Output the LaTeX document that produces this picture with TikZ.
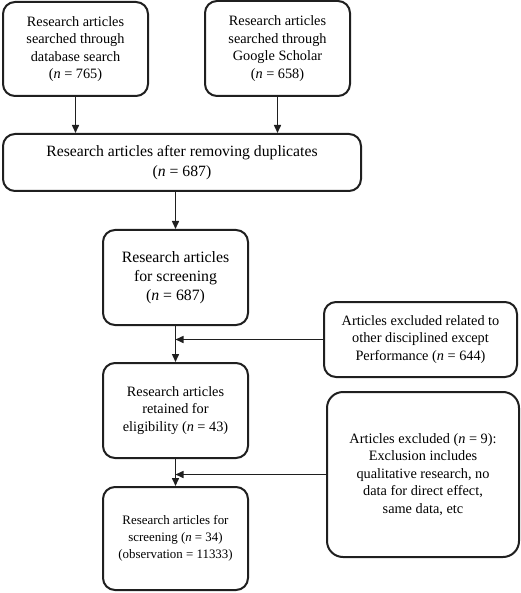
\documentclass[tikz,border=0pt]{standalone}
\usepackage{fontspec}
\setmainfont{Liberation Serif}
\usetikzlibrary{arrows.meta}
\begin{document}
\begin{tikzpicture}[x=1pt,y=1pt,
    stage/.style={draw=black!88,line width=2pt,rounded corners=12pt,align=center,
      inner sep=2pt,font=\fontsize{14.3}{17.6}\selectfont},
    flow/.style={-{Triangle[length=8pt,width=7pt]},line width=1.5pt,draw=black!88}]
  \useasboundingbox (0,0) rectangle (520,-593);
  \draw
    (75.5,-49) node[stage,minimum width=145pt,minimum height=94pt] (dbase){Research articles\\searched through\\database search\\(\textit{n} = 765)}
    (277.5,-48.5) node[stage,minimum width=145pt,minimum height=95pt] (scholar){Research articles\\searched through\\Google Scholar\\(\textit{n} = 658)}
    (182,-162.5) node[stage,minimum width=358pt,minimum height=57pt,font=\fontsize{15.7}{20.5}\selectfont] (dedup){Research articles after removing duplicates\\(\textit{n} = 687)}
    (175.5,-277.5) node[stage,minimum width=145pt,minimum height=95pt,font=\fontsize{15.8}{19}\selectfont] (screen){Research articles\\for screening\\(\textit{n} = 687)}
    (175.5,-410.5) node[stage,minimum width=145pt,minimum height=95pt] (retain){Research articles\\retained for\\eligibility (\textit{n} = 43)}
    (175.5,-538.5) node[stage,minimum width=145pt,minimum height=103pt,font=\fontsize{12.9}{16.7}\selectfont] (final){Research articles for\\screening (\textit{n} = 34)\\(observation = 11333)}
    (420.5,-339.5) node[stage,minimum width=193pt,minimum height=75pt] (other){Articles excluded related to\\other disciplined except\\Performance (\textit{n} = 644)}
    (423,-474.5) node[stage,minimum width=192pt,minimum height=165pt,rounded corners=16pt] (qual){Articles excluded (\textit{n} = 9):\\Exclusion includes\\qualitative research, no\\data for direct effect,\\same data, etc};
  \begin{scope}[flow]
    \draw (dbase.south) to (dbase.south |- dedup.north);
    \draw (scholar.south) to (scholar.south |- dedup.north);
    \draw (dedup.south -| screen.north) to (screen.north);
    \draw (screen) to (retain);
    \draw (retain) to (final);
    \draw (other.west) to (other.west -| screen.south);
    \draw (qual.west) to (qual.west -| retain.south);
  \end{scope}
\end{tikzpicture}
\end{document}
